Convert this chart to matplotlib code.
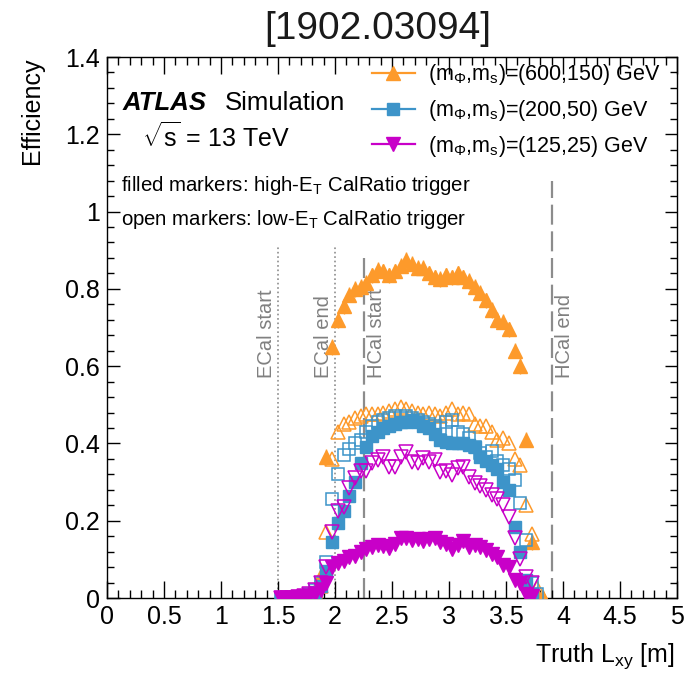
import numpy as np
import matplotlib
matplotlib.use("Agg")
import matplotlib.pyplot as plt
from matplotlib.lines import Line2D
from matplotlib.ticker import MultipleLocator

plt.rcParams['font.family'] = ['Liberation Sans', 'DejaVu Sans']
plt.rcParams['mathtext.fontset'] = 'custom'
plt.rcParams['mathtext.rm'] = 'Liberation Sans'
plt.rcParams['mathtext.it'] = 'Liberation Sans'
plt.rcParams['mathtext.default'] = 'regular'

nan = np.nan
# bin centres of truth Lxy [m]
lxy = [1.525, 1.575, 1.625, 1.675, 1.725, 1.775, 1.825, 1.875, 1.925, 1.975,
       2.025, 2.075, 2.125, 2.175, 2.225, 2.275, 2.325, 2.375, 2.425, 2.475,
       2.525, 2.575, 2.625, 2.675, 2.725, 2.775, 2.825, 2.875, 2.925, 2.975,
       3.025, 3.075, 3.125, 3.175, 3.225, 3.275, 3.325, 3.375, 3.425, 3.475,
       3.525, 3.575, 3.625, 3.675, 3.725, 3.775, 3.825]

# (600,150) GeV
eff_600_hi = [0.0, 0.0, 0.0, 0.002, 0.005, 0.01, 0.02, 0.06, 0.365, 0.65,
              0.72, 0.755, 0.785, 0.80, 0.805, 0.815, 0.835, 0.85, 0.845, 0.835,
              0.845, 0.86, 0.875, 0.865, 0.855, 0.855, 0.84, 0.83, 0.825, 0.835,
              0.83, 0.84, 0.83, 0.82, 0.805, 0.79, 0.77, 0.745, 0.72, 0.715,
              0.695, 0.64, 0.60, 0.41, 0.145, 0.01, 0.0]
eff_600_lo = [0.0, 0.0, 0.0, 0.002, 0.005, 0.01, 0.015, 0.03, 0.17, 0.36,
              0.43, 0.45, 0.455, 0.465, 0.47, 0.475, 0.475, 0.475, 0.48, 0.485,
              0.49, 0.495, 0.49, 0.485, 0.48, 0.475, 0.478, 0.475, 0.47, 0.48,
              0.488, 0.475, 0.48, 0.475, 0.45, 0.445, 0.445, 0.43, 0.41, 0.415,
              0.40, 0.36, 0.345, 0.24, 0.165, 0.025, 0.0]
# (200,50) GeV
eff_200_hi = [0.003, 0.0, 0.0, 0.002, 0.004, 0.008, 0.015, 0.03, 0.07, 0.145,
              0.195, 0.225, 0.265, 0.30, 0.35, 0.39, 0.42, 0.43, 0.44, 0.445,
              0.45, 0.455, 0.455, 0.46, 0.455, 0.445, 0.44, 0.425, 0.41, 0.405,
              0.40, 0.40, 0.40, 0.395, 0.39, 0.365, 0.355, 0.345, 0.335, 0.30,
              0.28, 0.185, 0.12, 0.047, 0.01, nan, nan]
eff_200_lo = [0.0, 0.0, 0.0, 0.003, 0.005, 0.01, 0.02, 0.04, 0.093, 0.255,
              0.32, 0.37, 0.385, 0.40, 0.41, 0.43, 0.445, 0.455, 0.46, 0.465,
              0.47, 0.465, 0.47, 0.465, 0.46, 0.455, 0.45, 0.445, 0.44, 0.455,
              0.46, 0.43, 0.425, 0.415, 0.39, 0.375, 0.365, 0.38, 0.355, 0.345,
              0.335, 0.305, 0.245, 0.15, 0.04, 0.01, nan]
# (125,25) GeV
eff_125_hi = [0.0, 0.0, 0.0, 0.002, 0.003, 0.005, 0.01, 0.02, 0.04, 0.08,
              0.09, 0.095, 0.105, 0.11, 0.12, 0.127, 0.132, 0.138, 0.135, 0.13,
              0.14, 0.155, 0.155, 0.15, 0.152, 0.148, 0.152, 0.155, 0.145, 0.14,
              0.128, 0.138, 0.148, 0.132, 0.137, 0.133, 0.125, 0.115, 0.105, 0.085,
              0.08, 0.047, 0.04, 0.01, 0.005, nan, nan]
eff_125_lo = [0.0, 0.0, 0.0, 0.003, 0.005, 0.01, 0.02, 0.04, 0.08, 0.17,
              0.225, 0.235, 0.285, 0.31, 0.33, 0.33, 0.35, 0.357, 0.365, 0.34,
              0.34, 0.365, 0.378, 0.352, 0.35, 0.362, 0.352, 0.357, 0.326, 0.33,
              0.318, 0.337, 0.34, 0.313, 0.297, 0.29, 0.28, 0.267, 0.255, 0.24,
              0.21, 0.155, 0.10, 0.055, 0.04, nan, nan]

labels = [r'(m$_{\Phi}$,m$_{s}$)=(600,150) GeV',
          r'(m$_{\Phi}$,m$_{s}$)=(200,50) GeV',
          r'(m$_{\Phi}$,m$_{s}$)=(125,25) GeV']
colors = ['#fd9a2b', '#3d94c9', '#c800c8']
markers = ['^', 's', 'v']
msizes = [10, 8.5, 10]

# detector boundaries: position, label, top of line, style, label side
boundaries = [(1.5, 'ECal start', 0.91, ':', -1), (2.0, 'ECal end', 0.91, ':', -1),
              (2.25, 'HCal start', 0.89, (0, (9, 3)), 1), (3.9, 'HCal end', 1.08, (0, (9, 3)), 1)]

fig = plt.figure(figsize=(6.98, 6.73), dpi=100)
ax = fig.add_axes([0.1533, 0.1114, 0.8167, 0.8039])

for xb, name, top, ls, side in boundaries:
    ax.plot([xb, xb], [0, top], color='#8c8c8c', ls=ls, lw=1.6 if ls != ':' else 1.2, zorder=1)
    ax.text(xb + side * (0.03 if side > 0 else 0.015), 0.57, name, rotation=90,
            ha='left' if side > 0 else 'right', va='bottom', fontsize=14.5, color='#808080')

series = [(eff_600_hi, eff_600_lo), (eff_200_hi, eff_200_lo), (eff_125_hi, eff_125_lo)]
z = 3
for (hi, lo), c, m, ms in zip(series, colors, markers, msizes):
    ax.errorbar(lxy, hi, yerr=0.02 if m == '^' else 0.008, fmt=m, color=c, ms=ms,
                mec=c, mfc=c, elinewidth=1.0, capsize=0, zorder=z)
    ax.plot(lxy, lo, ls='none', marker=m, ms=ms, mec=c, mfc='none', mew=1.1, zorder=z + 1)
    z += 2

ax.set_xlim(0, 5)
ax.set_ylim(0, 1.4)
ax.xaxis.set_major_locator(MultipleLocator(0.5))
ax.xaxis.set_minor_locator(MultipleLocator(0.1))
ax.yaxis.set_major_locator(MultipleLocator(0.2))
ax.yaxis.set_minor_locator(MultipleLocator(0.04))
ax.set_xticks([0, 0.5, 1, 1.5, 2, 2.5, 3, 3.5, 4, 4.5, 5])
ax.set_xticklabels(['0', '0.5', '1', '1.5', '2', '2.5', '3', '3.5', '4', '4.5', '5'])
ax.set_yticks([0, 0.2, 0.4, 0.6, 0.8, 1, 1.2, 1.4])
ax.set_yticklabels(['0', '0.2', '0.4', '0.6', '0.8', '1', '1.2', '1.4'])
ax.tick_params(which='both', direction='in', top=True, right=True, labelsize=18, pad=5)
ax.tick_params(axis='x', which='major', length=12, width=1)
ax.tick_params(axis='x', which='minor', length=6, width=1)
ax.tick_params(axis='y', which='major', length=9, width=1)
ax.tick_params(axis='y', which='minor', length=5, width=1)
for sp in ax.spines.values():
    sp.set_linewidth(1.0)

ax.set_xlabel(r'Truth L$_{xy}$ [m]', fontsize=18, loc='right')
ax.xaxis.set_label_coords(0.995, -0.08)
ax.set_ylabel('Efficiency', fontsize=18, loc='top')
ax.yaxis.set_label_coords(-0.11, 1.0)
fig.text(0.541, 0.9575, '[1902.03094]', fontsize=28, color='#1a1a1a', ha='center', va='center')

ax.text(0.028, 0.915, 'ATLAS', transform=ax.transAxes, fontsize=18.5,
        fontweight='bold', fontstyle='italic', va='center', ha='left')
ax.text(0.207, 0.915, 'Simulation', transform=ax.transAxes, fontsize=18.5,
        va='center', ha='left')
ax.text(0.062, 0.852, r'$\sqrt{s}$ = 13 TeV', transform=ax.transAxes, fontsize=18,
        va='center', ha='left')
ax.text(0.0246, 0.762, r'filled markers: high-E$_{T}$ CalRatio trigger',
        transform=ax.transAxes, fontsize=14.7, va='center', ha='left')
ax.text(0.0246, 0.70, r'open markers: low-E$_{T}$ CalRatio trigger',
        transform=ax.transAxes, fontsize=14.7, va='center', ha='left')

handles = [Line2D([], [], color=c, marker=m, ms=ms, lw=1.6) for c, m, ms in zip(colors, markers, msizes)]
ax.legend(handles, labels, loc='upper left', bbox_to_anchor=(0.455, 1.0), frameon=False,
          fontsize=15.5, handlelength=2.0, handletextpad=0.6, labelspacing=0.5,
          borderaxespad=0, borderpad=0.25)

plt.savefig('out.png', dpi=100)
